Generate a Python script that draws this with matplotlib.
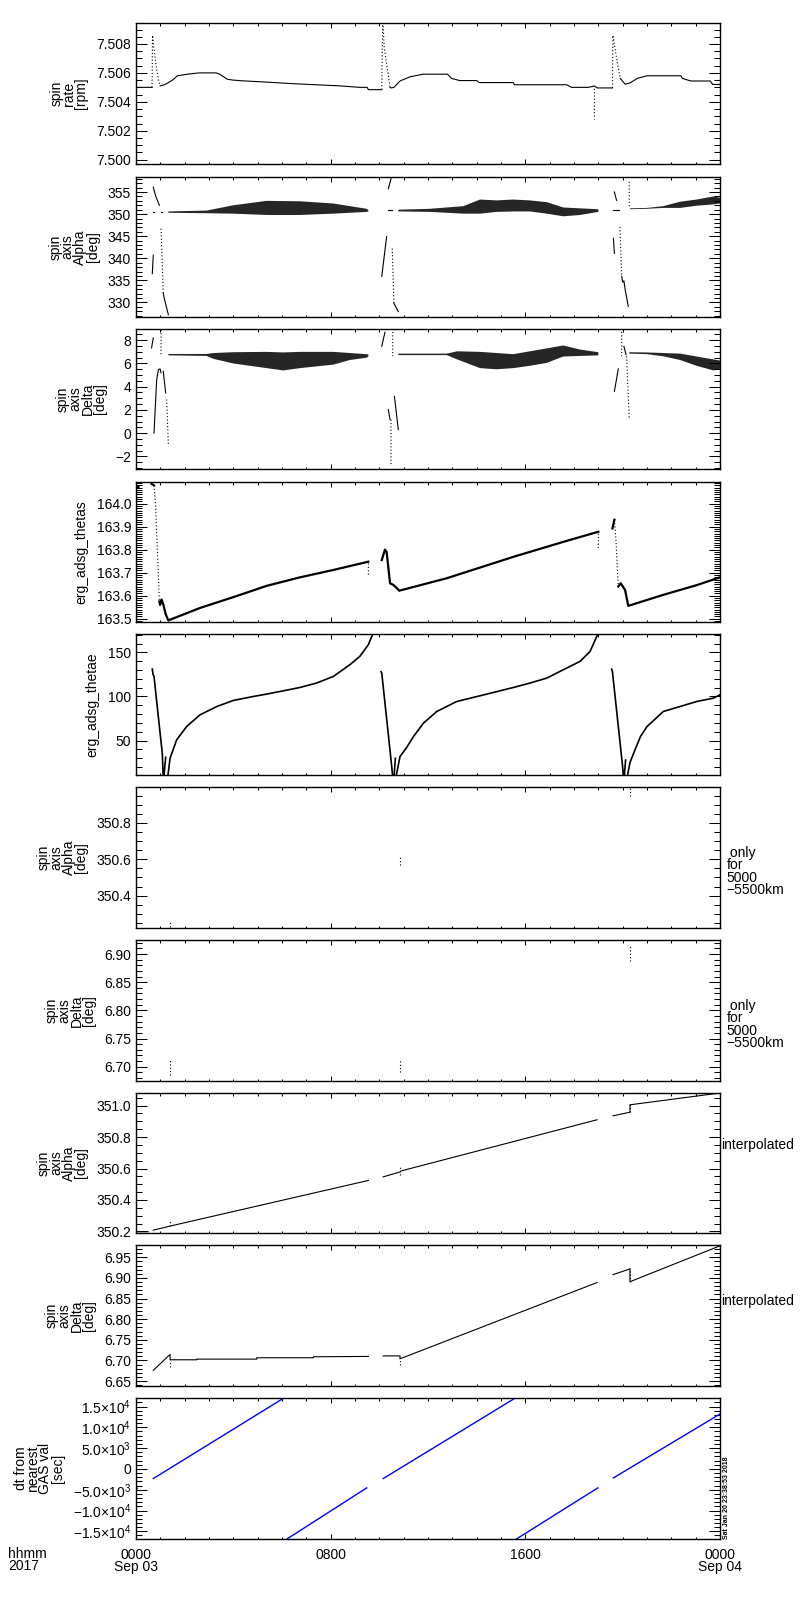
import numpy as np
import matplotlib
matplotlib.use('Agg')
import matplotlib.pyplot as plt
from matplotlib.ticker import MultipleLocator, FuncFormatter

plt.rcParams['font.family'] = ['Liberation Sans', 'DejaVu Sans']
plt.rcParams['font.size'] = 10
plt.rcParams['mathtext.fontset'] = 'custom'
plt.rcParams['mathtext.rm'] = 'Liberation Sans'
plt.rcParams['axes.linewidth'] = 1.0

nan = np.nan

# time in hours from 2017-09-03 00:00 UT

# panel 1: spin rate [rpm]
rate_t = [0.00, 0.66, nan, 0.99, 1.20, 1.50, 1.70, 2.20, 2.60, 3.30, 3.45, 3.75, 4.00, 4.40, 5.50, 6.50,
          8.40, 9.20, 9.50, 9.55, 10.10, nan, 10.44, 10.48, 10.60, 10.85, 11.26, 11.80, 12.80, 12.97,
          13.30, 14.00, 14.10, 15.50, 15.55, 17.70, 17.90, 18.60, 18.84, 18.95, 19.58, nan, 19.90,
          20.10, 20.30, 20.60, 21.00, 22.40, 22.45, 22.80, 23.60, 23.70, 24.00]
rate_v = [7.5050, 7.5050, nan, 7.5051, 7.5052, 7.5055, 7.5058, 7.50593, 7.5060, 7.5060, 7.5059, 7.50556,
          7.5055, 7.50545, 7.50535, 7.50525, 7.5051, 7.5050, 7.5050, 7.50484, 7.50484, nan, 7.5050,
          7.50496, 7.5050, 7.50544, 7.50573, 7.50591, 7.50591, 7.50562, 7.50547, 7.50547, 7.50533,
          7.50533, 7.50518, 7.50518, 7.5050, 7.5050, 7.5051, 7.50496, 7.50496, nan, 7.50562, 7.50522,
          7.5053, 7.50562, 7.5058, 7.5058, 7.50562, 7.50544, 7.50544, 7.5052, 7.5052]
rate_spike_t = [0.66, 0.68, 0.80, 0.92, 0.99, nan, 10.10, 10.14, 10.20, 10.30, 10.38, 10.44, nan,
                19.58, 19.60, 19.75, 19.90, nan, 18.84, 18.84]
rate_spike_v = [7.5050, 7.5086, 7.5068, 7.5055, 7.5051, nan, 7.50484, 7.5098, 7.5078, 7.5066, 7.5057,
                7.5050, nan, 7.50496, 7.5086, 7.5070, 7.50562, nan, 7.5049, 7.50278]

# panel 2: spin axis Alpha [deg]
alpha_line_t = [0.71, 0.82, 0.96, nan, 0.67, 0.71, nan, 1.12, 1.15, 1.33, nan, 10.10, 10.30, nan,
                10.37, 10.51, nan, 10.60, 10.78, nan, 19.62, 19.66, nan, 19.66, 19.75, nan,
                19.96, 20.00, 20.05, 20.10, 20.23]
alpha_line_v = [356.1, 353.9, 352.0, nan, 336.5, 340.7, nan, 332.1, 331.2, 327.2, nan, 335.9, 344.9, nan,
                355.75, 358.6, nan, 329.8, 327.9, nan, 344.5, 341.1, nan, 355.0, 353.1, nan,
                335.9, 334.6, 334.9, 333.0, 329.1]
alpha_dot_t = [1.03, 1.12, nan, 10.53, 10.60, nan, 19.89, 19.96, nan, 20.27, 20.27]
alpha_dot_v = [346.7, 332.1, nan, 342.2, 329.8, nan, 347.1, 335.9, nan, 357.3, 351.6]
alpha_dash_t = [0.68, 0.74, nan, 1.02, 1.08, nan, 10.37, 10.50, nan, 19.62, 19.85]
alpha_dash_v = [350.5, 350.5, nan, 350.5, 350.5, nan, 350.9, 350.9, nan, 350.9, 350.9]
alpha_band_t = [1.33, 2.90, 4.00, 5.37, 6.74, 8.11, 9.48, 9.55, nan, 10.78, 12.08, 12.77, 13.45,
                14.14, 14.82, 15.51, 16.19, 16.88, 17.56, 18.25, 19.00, nan, 20.30, 21.00, 21.67,
                22.36, 23.04, 23.73, 24.00]
alpha_band_lo = [350.3, 350.2, 350.1, 349.8, 349.8, 350.1, 350.5, 350.6, nan, 350.6, 350.5, 350.3, 350.1,
                 350.1, 350.5, 350.6, 350.6, 350.1, 349.5, 349.8, 350.5, nan, 351.1, 351.2, 351.4,
                 351.4, 351.9, 352.2, 352.4]
alpha_band_hi = [350.6, 350.8, 352.0, 353.0, 352.9, 352.4, 351.2, 350.9, nan, 351.0, 351.2, 351.5, 351.8,
                 353.3, 353.1, 353.3, 353.1, 352.7, 351.5, 351.3, 351.1, nan, 351.3, 351.4, 351.8,
                 352.8, 353.3, 354.0, 353.7]

# panel 3: spin axis Delta [deg]
delta_line_t = [0.64, 0.71, nan, 0.74, 0.85, 0.92, 0.99, 1.03, nan, 1.12, 1.22, nan, 10.10, 10.23, nan,
                10.37, 10.44, nan, 10.62, 10.78, nan, 19.66, 19.82, nan, 20.05, 20.14]
delta_line_v = [7.34, 8.2, nan, 0.0, 4.6, 5.47, 5.53, 5.2, nan, 5.33, 3.46, nan, 7.48, 8.69, nan,
                2.02, 1.16, nan, 3.17, 0.3, nan, 3.6, 5.53, nan, 7.48, 6.77]
delta_dot_t = [1.03, 1.03, nan, 1.26, 1.33, nan, 10.48, 10.48, nan, 10.55, 10.55, nan, 19.96, 19.96,
               nan, 20.16, 20.27]
delta_dot_v = [8.9, 6.6, nan, 2.9, -1.0, nan, 1.16, -2.86, nan, 9.0, 6.62, nan, 9.0, 6.62,
               nan, 6.62, 1.3]
delta_band_t = [1.33, 2.90, 3.18, 4.00, 5.37, 6.05, 6.74, 8.11, 8.79, 9.48, 9.55, nan, 10.78, 12.77,
                13.20, 14.14, 14.82, 15.51, 16.19, 16.88, 17.56, 18.25, 19.00, nan, 20.27, 21.00,
                21.67, 22.36, 23.04, 23.73, 24.00]
delta_band_lo = [6.70, 6.65, 6.40, 6.00, 5.60, 5.40, 5.60, 5.90, 6.30, 6.50, 6.60, nan, 6.72, 6.72,
                 6.35, 5.60, 5.50, 5.60, 5.80, 6.05, 6.60, 6.65, 6.70, nan, 6.85, 6.80,
                 6.62, 6.30, 5.80, 5.40, 5.50]
delta_band_hi = [6.82, 6.82, 6.90, 6.97, 7.00, 6.95, 7.00, 7.00, 6.90, 6.80, 6.78, nan, 6.85, 6.85,
                 7.05, 7.00, 6.90, 6.80, 7.05, 7.30, 7.55, 7.20, 6.97, nan, 6.97, 6.95,
                 6.90, 6.85, 6.60, 6.35, 6.25]

# panel 4: erg_adsg_thetas
thetas_t = [0.00, 0.10, nan, 0.64, 0.74, nan, 0.96, 0.99, 1.05, 1.12, 1.22, 1.33, 2.63, 4.00, 5.37,
            6.74, 8.11, 9.55, nan, 10.10, 10.23, 10.30, 10.44, 10.58, 10.72, 10.82, 12.77, 15.51,
            17.56, 19.00, nan, 19.58, 19.66, nan, 19.82, 19.92, 20.10, 20.23, 21.67, 23.04, 24.00]
thetas_v = [164.072, 164.072, nan, 164.086, 164.079, nan, 163.575, 163.560, 163.584, 163.563, 163.520,
            163.493, 163.547, 163.594, 163.643, 163.680, 163.712, 163.748, nan, 163.755, 163.800,
            163.790, 163.654, 163.647, 163.633, 163.622, 163.676, 163.769, 163.834, 163.878, nan,
            163.892, 163.930, nan, 163.640, 163.654, 163.625, 163.556, 163.604, 163.646, 163.680]
thetas_dot_t = [0.74, 0.80, 0.92, 0.96, nan, 9.55, 9.55, nan, 19.00, 19.00, nan, 19.66, 19.72, 19.82]
thetas_dot_v = [164.079, 164.0, 163.69, 163.575, nan, 163.74, 163.69, nan, 163.87, 163.80, nan,
                163.93, 163.85, 163.64]

# panel 5: erg_adsg_thetae
thetae_t = [0.67, 0.70, 0.74, 1.08, 1.12, nan, 1.14, 1.22, nan, 1.30, 1.40, 1.67, 2.08, 2.63, 3.32,
            4.00, 4.82, 5.37, 6.05, 6.74, 7.42, 8.11, 8.79, 9.20, 9.55, 9.75, nan, 10.07, 10.10,
            10.51, 10.55, nan, 10.60, 10.66, nan, 10.68, 10.85, 11.12, 11.40, 11.81, 12.36, 13.18,
            14.14, 15.51, 16.19, 16.88, 17.56, 18.25, 18.66, 19.00, nan, 19.55, 19.58, 20.00, 20.03,
            nan, 20.06, 20.12, nan, 20.18, 20.30, 20.45, 20.73, 21.00, 21.67, 22.36, 23.04, 23.73, 24.00]
thetae_v = [131.0, 125.0, 122.7, 35.6, 8.0, nan, 8.0, 31.0, nan, 8.0, 30.0, 50.8, 65.9, 79.2, 88.6,
            95.5, 100.0, 102.7, 106.4, 110.2, 115.2, 122.7, 136.0, 145.5, 158.7, 172.0, nan, 128.0, 126.5,
            20.5, 8.0, nan, 8.0, 30.0, nan, 8.0, 32.0, 42.0, 54.5, 69.7, 83.0, 94.3,
            100.8, 110.2, 115.2, 120.8, 130.3, 139.8, 151.0, 172.0, nan, 131.0, 128.0, 20.0, 8.0,
            nan, 8.0, 28.0, nan, 8.0, 25.0, 35.6, 54.5, 65.9, 83.0, 88.6, 94.3, 98.1, 101.9]

# panels 6, 7: only for 5000-5500 km
alt_t = [1.40, 1.40, nan, 10.85, 10.85, nan, 20.30, 20.30]
alpha_alt_v = [350.23, 350.26, nan, 350.57, 350.62, nan, 350.95, 351.0]
delta_alt_v = [6.686, 6.712, nan, 6.690, 6.714, nan, 6.888, 6.917]

# panels 8, 9: interpolated
alpha_int_t = [0.00, 0.50, nan, 0.71, 1.40, 9.55, nan, 10.16, 10.85, 10.88, 18.95, nan, 19.60, 20.30,
               20.30, 24.00]
alpha_int_v = [350.198, 350.198, nan, 350.208, 350.234, 350.524, nan, 350.547, 350.578, 350.584, 350.910,
               nan, 350.935, 350.958, 351.005, 351.080]
alpha_int_dot_v = [350.234, 350.265, nan, 350.56, 350.62, nan, 350.958, 351.01]
delta_int_t = [0.71, 1.40, 1.40, 2.49, 2.49, 4.96, 4.96, 7.29, 7.29, 9.55, nan, 10.16, 10.85, 10.85,
               18.95, nan, 19.60, 20.30, 20.30, 24.00]
delta_int_v = [6.676, 6.7146, 6.7016, 6.7016, 6.7032, 6.7032, 6.7065, 6.7065, 6.7089, 6.7097, nan,
               6.711, 6.711, 6.704, 6.889, nan, 6.908, 6.922, 6.891, 6.978]
delta_int_dot_v = [6.684, 6.698, nan, 6.690, 6.712, nan, 6.891, 6.925]

# panel 10: dt from nearest GAS val [sec]
dt_t = [0.00, 0.05, nan, 0.71, 6.09, nan, 6.19, 9.48, nan, 10.16, 15.60, nan, 15.62, 18.98, nan,
        19.62, 24.00]
dt_v = [-4800, -4650, nan, -2320, 17100, nan, -16900, -4560, nan, -2320, 17100, nan, -16900, -4560, nan,
        -2160, 13200]

ylabels = ['spin\nrate\n[rpm]', 'spin\naxis\nAlpha\n[deg]', 'spin\naxis\nDelta\n[deg]',
           'erg_adsg_thetas', 'erg_adsg_thetae', 'spin\naxis\nAlpha\n[deg]', 'spin\naxis\nDelta\n[deg]',
           'spin\naxis\nAlpha\n[deg]', 'spin\naxis\nDelta\n[deg]', 'dt from\nnearest\nGAS val\n[sec]']
ylims = [(7.4997, 7.50945), (326.7, 358.4), (-3.09, 8.97), (163.486, 164.094), (11.0, 170.8),
         (350.222, 350.998), (6.6745, 6.925), (350.19, 351.08), (6.638, 6.98), (-16850, 17050)]
majors = [0.002, 5, 2, 0.1, 50, 0.2, 0.05, 0.2, 0.05, 5000]
minors = [0.0005, 1, 0.5, 0.01, 10, 0.05, 0.01, 0.05, 0.01, 1000]
fmts = ['%.3f', '%d', '%d', '%.1f', '%d', '%.1f', '%.2f', '%.1f', '%.2f', None]

W, H = 800.0, 1600.0
x_left, x_right = 136, 720
tops = [23, 177, 329, 482, 634, 787, 940, 1093, 1245, 1398]
bots = [164, 317, 469, 622, 775, 928, 1081, 1233, 1386, 1539]


def sci_label(v, pos):
    if abs(v) < 1e-6:
        return '0'
    e = int(np.floor(np.log10(abs(v))))
    m = abs(v) / 10 ** e
    s = '%.1f\u00d710$^{\\mathregular{%d}}$' % (m, e)
    return ('\u2212' + s) if v < 0 else s


def make_fmt(f):
    return FuncFormatter(lambda v, pos: (f % round(v, 6)).replace('-', '\u2212'))


fig = plt.figure(figsize=(8, 16), dpi=100)
axes = []
for i in range(10):
    ax = fig.add_axes([x_left / W, 1 - bots[i] / H, (x_right - x_left) / W, (bots[i] - tops[i]) / H])
    ax.set_xlim(0, 24)
    ax.set_ylim(*ylims[i])
    ax.xaxis.set_major_locator(MultipleLocator(8))
    ax.xaxis.set_minor_locator(MultipleLocator(1))
    ax.yaxis.set_major_locator(MultipleLocator(majors[i]))
    ax.yaxis.set_minor_locator(MultipleLocator(minors[i]))
    ax.tick_params(which='both', direction='in', top=True, right=True, width=0.75, colors='black')
    ax.tick_params(axis='y', which='major', length=8, pad=3.5, labelsize=10)
    ax.tick_params(axis='y', which='minor', length=4.3)
    ax.tick_params(axis='x', which='major', length=3.6, pad=6.5, labelsize=10)
    ax.tick_params(axis='x', which='minor', length=1.8)
    if fmts[i] is None:
        ax.yaxis.set_major_formatter(FuncFormatter(sci_label))
    else:
        ax.yaxis.set_major_formatter(make_fmt(fmts[i]))
    ax.set_ylabel(ylabels[i], labelpad=6, linespacing=0.85, multialignment='center')
    if i < 9:
        ax.tick_params(axis='x', labelbottom=False)
    axes.append(ax)

lw = 0.8
dots = dict(color='black', lw=0.8, ls=(0, (1, 2)))

ax = axes[0]
ax.plot(rate_t, rate_v, color='black', lw=lw)
ax.plot(rate_spike_t, rate_spike_v, **dots)

# noisy attitude bands drawn as filled envelopes
ax = axes[1]
ax.fill_between(alpha_band_t, alpha_band_lo, alpha_band_hi, color='black', alpha=0.85, lw=0)
ax.plot(alpha_line_t, alpha_line_v, color='black', lw=lw)
ax.plot(alpha_dot_t, alpha_dot_v, **dots)
ax.plot(alpha_dash_t, alpha_dash_v, color='black', lw=lw)

ax = axes[2]
ax.fill_between(delta_band_t, delta_band_lo, delta_band_hi, color='black', alpha=0.85, lw=0)
ax.plot(delta_line_t, delta_line_v, color='black', lw=lw)
ax.plot(delta_dot_t, delta_dot_v, **dots)

ax = axes[3]
ax.plot(thetas_t, thetas_v, color='black', lw=1.6)
ax.plot(thetas_dot_t, thetas_dot_v, **dots)

ax = axes[4]
ax.plot(thetae_t, thetae_v, color='black', lw=1.2)

axes[5].plot(alt_t, alpha_alt_v, **dots)
axes[6].plot(alt_t, delta_alt_v, **dots)

ax = axes[7]
ax.plot(alpha_int_t, alpha_int_v, color='black', lw=lw)
ax.plot(alt_t, alpha_int_dot_v, **dots)

ax = axes[8]
ax.plot(delta_int_t, delta_int_v, color='black', lw=lw)
ax.plot(alt_t, delta_int_dot_v, **dots)

ax = axes[9]
ax.plot(dt_t, dt_v, color='#0000ff', lw=1.0)
ax.set_xticks([0, 8, 16, 24])
ax.set_xticklabels(['0000\nSep 03', '0800', '1600', '0000\nSep 04'], linespacing=0.85)

# labels on the right side
for i in (5, 6):
    axes[i].text(1.011, 0.40, ' only\nfor\n5000\n\u22125500km', transform=axes[i].transAxes,
                 ha='left', va='center', linespacing=0.85)
axes[7].text(1.002, 0.63, 'interpolated', transform=axes[7].transAxes, ha='left', va='center')
axes[8].text(1.002, 0.60, 'interpolated', transform=axes[8].transAxes, ha='left', va='center')

fig.text(8 / W, 1 - 1547 / H, 'hhmm\n2017', ha='left', va='top', linespacing=0.85)
fig.text(723 / W, 1 - 1539 / H, 'Sat Jan 20 23:38:53 2018', rotation=90, fontsize=5,
         fontweight='bold', ha='left', va='bottom')

fig.savefig('out.png', dpi=100, facecolor='white')
